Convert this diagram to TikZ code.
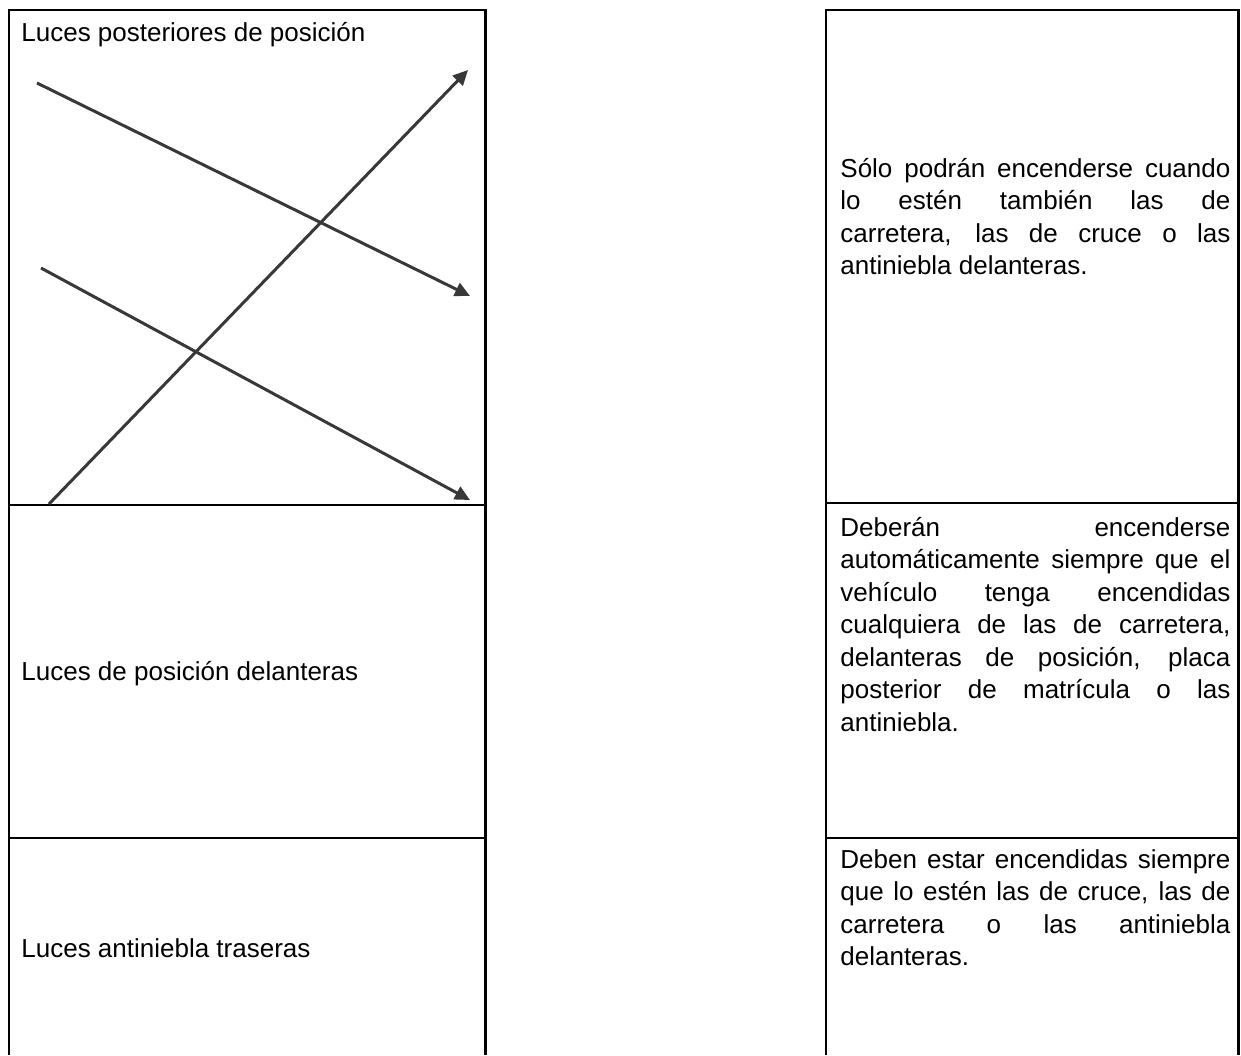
\documentclass[tikz,border=0pt]{standalone}
\usepackage{fontspec}
\setmainfont{Liberation Sans}
\usetikzlibrary{arrows.meta, positioning}

\begin{document}
\begin{tikzpicture}[x=0.5pt, y=-0.5pt,
    cellline/.style={black, line width=1.3pt},
    pointer/.style={-{Triangle[length=7.5pt, width=7pt]}, line width=1.5pt, black!78},
    lbl/.style={inner sep=0pt, anchor=base west, font=\fontsize{13}{16.25}\selectfont},
    desc/.style={lbl, text width=195pt, align=justify,
      execute at begin node={\hyphenpenalty=10000}}]
  \useasboundingbox (0,0) rectangle (1241,1055);

  % Left column: light names
  \draw[cellline] (9,1055) -- (9,10) -- (485.5,10) -- (485.5,1055);
  \draw[cellline] (9,505) -- (485.5,505);
  \draw[cellline] (9,838) -- (485.5,838);
  \node[lbl] (lblPost) at (21,41) {Luces posteriores de posición};
  \node[lbl] (lblDel) at (21,680) {Luces de posición delanteras};
  \node[lbl] (lblTras) at (21,957) {Luces antiniebla traseras};

  % Right column: rules
  \draw[cellline] (826,1055) -- (826,10) -- (1238.5,10) -- (1238.5,1055);
  \draw[cellline] (826,503) -- (1238.5,503);
  \draw[cellline] (826,838) -- (1238.5,838);
  \node[desc] (descPost) at (840,177) {Sólo podrán encenderse cuando\linebreak lo estén también las de\linebreak carretera, las de cruce o las\linebreak antiniebla delanteras.};
  \node[desc] (descDel) at (840,536) {Deberán encenderse\linebreak automáticamente siempre que el\linebreak vehículo tenga encendidas\linebreak cualquiera de las de carretera,\linebreak delanteras de posición, placa\linebreak posterior de matrícula o las\linebreak antiniebla.};
  \node[desc] (descTras) at (840,868) {Deben estar encendidas siempre\linebreak que lo estén las de cruce, las de\linebreak carretera o las antiniebla\linebreak delanteras.};

  % Matching arrows
  \coordinate (postStart) at (37,83);
  \coordinate (postEnd) at (470,296);
  \coordinate (delStart) at (41,268);
  \coordinate (delEnd) at (470,500);
  \coordinate (trasStart) at (49,504);
  \coordinate (trasEnd) at (468,70);
  \draw[pointer] (postStart) -- (postEnd);
  \draw[pointer] (delStart) -- (delEnd);
  \draw[pointer] (trasStart) -- (trasEnd);
\end{tikzpicture}
\end{document}
